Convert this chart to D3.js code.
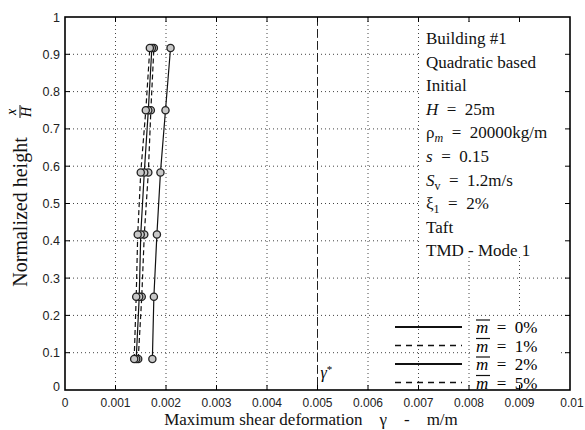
<!DOCTYPE html>
<html><head><meta charset="utf-8">
<script src="https://cdn.jsdelivr.net/npm/d3@7"></script>
<style>body{margin:0;background:#fff}svg{display:block}</style>
</head><body><svg id="c" width="585" height="430"></svg>
<script>
const heights = [0.083, 0.25, 0.417, 0.583, 0.75, 0.917];
const m0 = [0.00173, 0.00176, 0.00182, 0.00189, 0.00199, 0.00209];
const m1 = [0.00145, 0.00152, 0.00157, 0.00165, 0.00170, 0.00176];
const m2 = [0.00141, 0.00147, 0.00150, 0.00157, 0.00165, 0.00172];
const m5 = [0.00137, 0.00141, 0.00144, 0.00150, 0.00160, 0.00168];
const xTicks = [0, 0.001, 0.002, 0.003, 0.004, 0.005, 0.006, 0.007, 0.008, 0.009, 0.01];
const yTicks = [0, 0.1, 0.2, 0.3, 0.4, 0.5, 0.6, 0.7, 0.8, 0.9, 1];
const xTickLabels = ["0", "0.001", "0.002", "0.003", "0.004", "0.005", "0.006", "0.007", "0.008", "0.009", "0.01"];
const yTickLabels = ["0", "0.1", "0.2", "0.3", "0.4", "0.5", "0.6", "0.7", "0.8", "0.9", "1"];
const gammaStar = 0.005;
const series = [
  {name: "0%", values: m0, dash: null},
  {name: "1%", values: m1, dash: "5,3"},
  {name: "2%", values: m2, dash: null},
  {name: "5%", values: m5, dash: "5,3"}
];
const infoLines = ["Building #1", "Quadratic based", "Initial", "H", "rho", "s", "Sv", "xi", "Taft", "TMD - Mode 1"];

const svg = d3.select("#c");
const L = 65, R = 570, T = 17, B = 390;
const x = d3.scaleLinear().domain([0, 0.01]).range([L, R]);
const y = d3.scaleLinear().domain([0, 1]).range([B, T]);
const serif = "'Liberation Serif','Times New Roman',serif";
const sans = "'Liberation Sans',Arial,sans-serif";
const EQ = "\u2002=\u2002";

// grid
const g = svg.append("g");
g.selectAll(".vg").data(xTicks.slice(1, -1)).join("line")
  .attr("x1", d => x(d)).attr("x2", d => x(d)).attr("y1", T).attr("y2", B)
  .attr("stroke", "#444").attr("stroke-width", 1).attr("stroke-dasharray", "1,3");
g.selectAll(".hg").data(yTicks.slice(1, -1)).join("line")
  .attr("y1", d => y(d)).attr("y2", d => y(d)).attr("x1", L).attr("x2", R)
  .attr("stroke", "#444").attr("stroke-width", 1).attr("stroke-dasharray", "1,3");

// gamma* line
svg.append("line").attr("x1", x(gammaStar)).attr("x2", x(gammaStar)).attr("y1", T).attr("y2", B)
  .attr("stroke", "#222").attr("stroke-width", 1).attr("stroke-dasharray", "8,4");
svg.append("text").attr("x", x(gammaStar) + 3).attr("y", 378)
  .attr("font-family", serif).attr("font-size", 16).attr("font-style", "italic")
  .text("γ").append("tspan").attr("dy", -5).attr("font-size", 11).attr("font-style", "normal").text("*");

// info block background
svg.append("rect").attr("x", 420).attr("y", 22).attr("width", 146).attr("height", 235).attr("fill", "#fff");

// info text
const tx = 426, ty0 = 44, dy = 23.6;
const info = svg.append("g").attr("font-family", serif).attr("font-size", 17).attr("fill", "#111");
infoLines.forEach((s, i) => {
  const t = info.append("text").attr("x", tx).attr("y", ty0 + i * dy);
  if (s === "H") { t.append("tspan").attr("font-style", "italic").text("H"); t.append("tspan").text(EQ + "25m"); }
  else if (s === "rho") { t.append("tspan").text("ρ"); t.append("tspan").attr("font-style", "italic").attr("font-size", 12).attr("dy", 4).text("m"); t.append("tspan").attr("dy", -4).text(EQ + "20000kg/m"); }
  else if (s === "s") { t.append("tspan").attr("font-style", "italic").text("s"); t.append("tspan").text(EQ + "0.15"); }
  else if (s === "Sv") { t.append("tspan").attr("font-style", "italic").text("S"); t.append("tspan").attr("font-size", 12).attr("dy", 4).text("v"); t.append("tspan").attr("dy", -4).text(EQ + "1.2m/s"); }
  else if (s === "xi") { t.append("tspan").text("ξ"); t.append("tspan").attr("font-size", 12).attr("dy", 4).text("1"); t.append("tspan").attr("dy", -4).text(EQ + "2%"); }
  else t.text(s);
});

// series
const line = d3.line().x(d => x(d[0])).y(d => y(d[1]));
series.forEach(s => {
  const pts = s.values.map((v, i) => [v, heights[i]]);
  svg.append("path").attr("d", line(pts)).attr("fill", "none").attr("stroke", "#111")
    .attr("stroke-width", 1.2).attr("stroke-dasharray", s.dash);
});
series.forEach(s => {
  svg.append("g").selectAll("circle").data(s.values.map((v, i) => [v, heights[i]])).join("circle")
    .attr("cx", d => x(d[0])).attr("cy", d => y(d[1])).attr("r", 3.6)
    .attr("fill", "#c8c8c8").attr("stroke", "#222").attr("stroke-width", 1.3);
});

// legend
const lg = svg.append("g");
series.forEach((s, i) => {
  const ly = 327 + i * 18.5;
  lg.append("line").attr("x1", 395).attr("x2", 462).attr("y1", ly).attr("y2", ly)
    .attr("stroke", "#111").attr("stroke-width", s.dash ? 1.3 : 2.2).attr("stroke-dasharray", s.dash ? "6,5" : null);
  lg.append("rect").attr("x", 470).attr("y", ly - 11).attr("width", 90).attr("height", 19).attr("fill", "#fff");
  const t = lg.append("text").attr("x", 476).attr("y", ly + 6).attr("font-family", serif).attr("font-size", 17);
  t.append("tspan").attr("font-style", "italic").text("m");
  t.append("tspan").text(EQ + s.name);
  lg.append("line").attr("x1", 476).attr("x2", 490).attr("y1", ly - 7).attr("y2", ly - 7).attr("stroke", "#111").attr("stroke-width", 1.2);
});

// frame
svg.append("rect").attr("x", L).attr("y", T).attr("width", R - L).attr("height", B - T)
  .attr("fill", "none").attr("stroke", "#000").attr("stroke-width", 1.6);

// ticks (inward on all sides)
const tk = svg.append("g").attr("stroke", "#000").attr("stroke-width", 1);
xTicks.slice(1, -1).forEach(d => {
  tk.append("line").attr("x1", x(d)).attr("x2", x(d)).attr("y1", B).attr("y2", B - 5);
  tk.append("line").attr("x1", x(d)).attr("x2", x(d)).attr("y1", T).attr("y2", T + 5);
});
yTicks.slice(1, -1).forEach(d => {
  tk.append("line").attr("y1", y(d)).attr("y2", y(d)).attr("x1", L).attr("x2", L + 5);
  tk.append("line").attr("y1", y(d)).attr("y2", y(d)).attr("x1", R).attr("x2", R - 5);
});

// tick labels
svg.append("g").selectAll("text").data(xTicks).join("text")
  .attr("x", (d, i) => i === xTicks.length - 1 ? x(d) + 2 : x(d)).attr("y", 407)
  .attr("text-anchor", "middle")
  .attr("font-family", sans).attr("font-size", 12).attr("fill", "#222")
  .text((d, i) => xTickLabels[i]);
svg.append("g").selectAll("text").data(yTicks).join("text")
  .attr("x", 60).attr("y", d => y(d) + (d === 0 ? 1 : 4.5)).attr("text-anchor", "end")
  .attr("font-family", sans).attr("font-size", 12.5).attr("fill", "#222")
  .text((d, i) => yTickLabels[i]);

// x axis title
const xt = svg.append("text").attr("x", 311).attr("y", 425).attr("text-anchor", "middle")
  .attr("font-family", serif).attr("font-size", 17).attr("fill", "#111");
xt.append("tspan").text("Maximum shear deformation\u2003");
xt.append("tspan").text("γ");
xt.append("tspan").text("\u2003-\u2003m/m");

// y axis title
const yt = svg.append("g").attr("transform", "translate(27,212) rotate(-90)");
yt.append("text").attr("x", 0).attr("y", 0).attr("text-anchor", "middle")
  .attr("font-family", serif).attr("font-size", 20).attr("fill", "#111").text("Normalized height");
yt.append("text").attr("x", 100).attr("y", -11).attr("text-anchor", "middle")
  .attr("font-family", serif).attr("font-size", 14).attr("font-style", "italic").text("x");
yt.append("line").attr("x1", 94).attr("x2", 107).attr("y1", -7).attr("y2", -7).attr("stroke", "#111").attr("stroke-width", 1);
yt.append("text").attr("x", 100).attr("y", 4).attr("text-anchor", "middle")
  .attr("font-family", serif).attr("font-size", 14).attr("font-style", "italic").text("H");
</script></body></html>
